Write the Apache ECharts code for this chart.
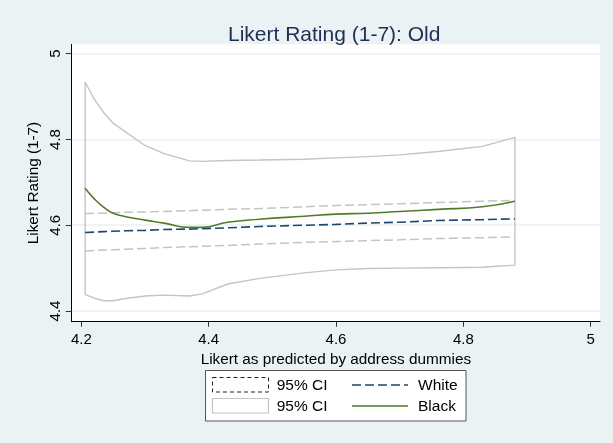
<!DOCTYPE html>
<html>
<head>
<meta charset="utf-8">
<title>Likert Rating (1-7): Old</title>
<script src="https://cdn.jsdelivr.net/npm/echarts@6/dist/echarts.min.js"></script>
<style>
  html, body { margin: 0; padding: 0; background: #eaf2f3; }
  #chart { width: 613px; height: 443px; }
</style>
</head>
<body>
<div id="chart"></div>
<script>
// Predicted Likert value (x) at which each curve is evaluated
const xPred = [4.206, 4.22, 4.235, 4.25, 4.27, 4.30, 4.33, 4.37, 4.39, 4.43, 4.48, 4.55, 4.60, 4.65, 4.70, 4.76, 4.83, 4.881];

// White: fitted rating and 95% confidence band
const whiteFit   = [4.583, 4.584, 4.585, 4.586, 4.587, 4.588, 4.590, 4.591, 4.592, 4.594, 4.597, 4.600, 4.602, 4.605, 4.607, 4.611, 4.613, 4.615];
const whiteUpper = [4.627, 4.628, 4.628, 4.629, 4.630, 4.631, 4.632, 4.634, 4.635, 4.637, 4.639, 4.643, 4.646, 4.648, 4.650, 4.653, 4.656, 4.658];
const whiteLower = [4.540, 4.541, 4.542, 4.543, 4.544, 4.546, 4.548, 4.550, 4.551, 4.553, 4.556, 4.560, 4.562, 4.564, 4.566, 4.569, 4.571, 4.573];

// Black: fitted rating and 95% confidence band
const blackFit   = [4.686, 4.662, 4.642, 4.628, 4.620, 4.612, 4.605, 4.595, 4.595, 4.607, 4.614, 4.621, 4.626, 4.628, 4.632, 4.637, 4.643, 4.656];
const blackUpper = [4.934, 4.895, 4.863, 4.838, 4.817, 4.786, 4.767, 4.750, 4.749, 4.751, 4.752, 4.754, 4.757, 4.760, 4.764, 4.772, 4.784, 4.805];
const blackLower = [4.439, 4.430, 4.424, 4.424, 4.429, 4.435, 4.437, 4.435, 4.440, 4.463, 4.476, 4.489, 4.496, 4.499, 4.500, 4.501, 4.502, 4.507];

// Axis tick labels
const xTicks = [4.2, 4.4, 4.6, 4.8, 5];
const yTicks = [4.4, 4.6, 4.8, 5];

const pairs = (xs, ys) => xs.map((x, i) => [x, ys[i]]);

// Closed outline of the Black confidence band: upper edge left to right,
// lower edge right to left, then back to the starting point.
const blackBandOutline = pairs(xPred, blackUpper)
  .concat(pairs(xPred, blackLower).reverse())
  .concat([[xPred[0], blackUpper[0]]]);

const FONT = '"Liberation Sans", Arial, Helvetica, sans-serif';
const BG = '#eaf2f3';
const GRAY = '#c4c4c4';
const NAVY = '#1a476f';
const GREEN = '#55792b';

const chart = echarts.init(document.getElementById('chart'), null, { renderer: 'canvas' });

chart.setOption({
  animation: false,
  backgroundColor: BG,
  textStyle: { fontFamily: FONT },
  title: {
    text: 'Likert Rating (1-7): Old',
    left: 228,
    top: 25,
    padding: 0,
    textStyle: { fontFamily: FONT, fontSize: 21, fontWeight: 'normal', color: '#1f2f52' }
  },
  grid: {
    left: 71.7, top: 44.3, right: 13, bottom: 121.3,
    show: true, backgroundColor: '#ffffff', borderWidth: 0
  },
  xAxis: {
    type: 'value',
    min: 4.18492, max: 5.0146,
    name: 'Likert as predicted by address dummies',
    nameLocation: 'middle',
    nameGap: 24.6,
    nameTextStyle: { fontFamily: FONT, fontSize: 15.3, color: '#000' },
    axisLine: { show: true, onZero: false, lineStyle: { color: '#000', width: 1 } },
    axisTick: { show: true, length: 5, customValues: xTicks, lineStyle: { color: '#333', width: 1 } },
    axisLabel: { customValues: xTicks, margin: 11, fontFamily: FONT, fontSize: 15, color: '#000' },
    splitLine: { show: false }
  },
  yAxis: {
    type: 'value',
    min: 4.37505, max: 5.02192,
    name: 'Likert Rating (1-7)',
    nameLocation: 'middle',
    nameGap: 21.5,
    nameTextStyle: { fontFamily: FONT, fontSize: 15.3, color: '#000' },
    axisLine: { show: true, onZero: false, lineStyle: { color: '#000', width: 1 } },
    axisTick: { show: true, length: 6, customValues: yTicks, lineStyle: { color: '#333', width: 1 } },
    axisLabel: { customValues: yTicks, rotate: 90, margin: 8, fontFamily: FONT, fontSize: 15, color: '#000' },
    splitLine: { show: true, lineStyle: { color: BG, width: 1.5 } }
  },
  series: [
    {
      name: '95% CI (White) upper', type: 'line', data: pairs(xPred, whiteUpper),
      showSymbol: false, smooth: false,
      lineStyle: { color: GRAY, width: 1.5, type: [9, 4] }
    },
    {
      name: '95% CI (White) lower', type: 'line', data: pairs(xPred, whiteLower),
      showSymbol: false, smooth: false,
      lineStyle: { color: GRAY, width: 1.5, type: [9, 4] }
    },
    {
      name: '95% CI (Black)', type: 'line', data: blackBandOutline,
      showSymbol: false, smooth: false,
      lineStyle: { color: GRAY, width: 1.4 }
    },
    {
      name: 'White', type: 'line', data: pairs(xPred, whiteFit),
      showSymbol: false, smooth: false,
      lineStyle: { color: NAVY, width: 1.6, type: [9, 4] }
    },
    {
      name: 'Black', type: 'line', data: pairs(xPred, blackFit),
      showSymbol: false, smooth: true,
      lineStyle: { color: GREEN, width: 1.6 }
    }
  ],
  // Legend box: two columns, band keys on the left, line keys on the right
  graphic: [
    { type: 'rect', shape: { x: 205.5, y: 370.5, width: 260.5, height: 50.5 },
      style: { fill: '#ffffff', stroke: '#555555', lineWidth: 1 } },
    { type: 'rect', shape: { x: 212.5, y: 377.5, width: 56, height: 14.5 },
      style: { fill: '#ffffff', stroke: '#222222', lineWidth: 1, lineDash: [4, 3] } },
    { type: 'rect', shape: { x: 212.5, y: 398.5, width: 56, height: 14.5 },
      style: { fill: '#ffffff', stroke: GRAY, lineWidth: 1.2 } },
    { type: 'text', x: 276.7, y: 385.5,
      style: { text: '95% CI', font: '15.5px ' + FONT, fill: '#000', verticalAlign: 'middle' } },
    { type: 'text', x: 276.7, y: 406.5,
      style: { text: '95% CI', font: '15.5px ' + FONT, fill: '#000', verticalAlign: 'middle' } },
    { type: 'line', shape: { x1: 352, y1: 385, x2: 408, y2: 385 },
      style: { stroke: NAVY, lineWidth: 1.6, lineDash: [9, 4] } },
    { type: 'line', shape: { x1: 352, y1: 406, x2: 408, y2: 406 },
      style: { stroke: GREEN, lineWidth: 1.6 } },
    { type: 'text', x: 418, y: 385.5,
      style: { text: 'White', font: '15.5px ' + FONT, fill: '#000', verticalAlign: 'middle' } },
    { type: 'text', x: 418, y: 406.5,
      style: { text: 'Black', font: '15.5px ' + FONT, fill: '#000', verticalAlign: 'middle' } }
  ]
});
</script>
</body>
</html>
